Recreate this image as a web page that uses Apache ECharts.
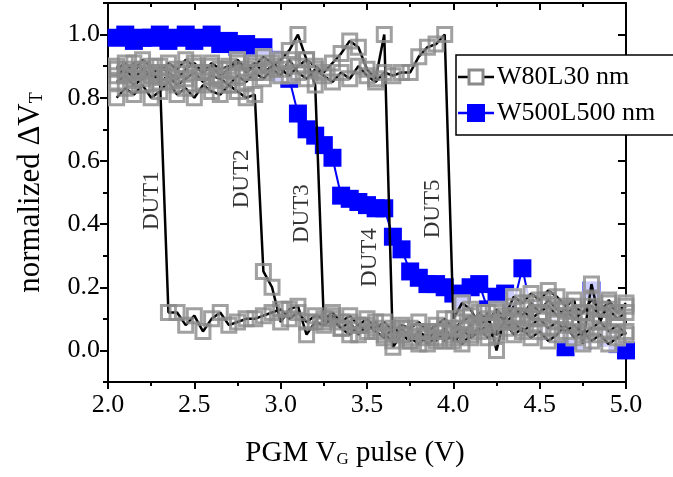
<!DOCTYPE html>
<html><head><meta charset="utf-8">
<script src="https://cdn.jsdelivr.net/npm/echarts@6/dist/echarts.min.js"></script>
<style>html,body{margin:0;padding:0;background:#fff}#c{width:673px;height:477px}</style>
</head><body><div id="c"></div>
<script>
// ---- data ----
const xValues = [2.05,2.10,2.15,2.20,2.25,2.30,2.35,2.40,2.45,2.50,2.55,2.60,2.65,2.70,2.75,2.80,2.85,2.90,2.95,3.00,
  3.05,3.10,3.15,3.20,3.25,3.30,3.35,3.40,3.45,3.50,3.55,3.60,3.65,3.70,3.75,3.80,3.85,3.90,3.95,4.00,
  4.05,4.10,4.15,4.20,4.25,4.30,4.35,4.40,4.45,4.50,4.55,4.60,4.65,4.70,4.75,4.80,4.85,4.90,4.95,5.00];

const dut1 = [0.87,0.89,0.86,0.89,0.87,0.87,
  0.12,0.12,0.08,0.11,0.06,0.10,0.12,0.08,0.09,0.10,0.10,0.11,0.12,0.13,
  0.10,0.12,0.09,0.11,0.10,0.12,0.09,0.11,0.08,0.10,
  0.07,0.09,0.06,0.08,0.07,0.09,0.06,0.08,0.10,0.07,
  0.09,0.11,0.08,0.10,0.12,0.09,0.11,0.13,0.10,0.12,
  0.14,0.11,0.13,0.10,0.12,0.14,0.11,0.13,0.10,0.12];

const dut2 = [0.80,0.83,0.81,0.84,0.80,0.82,0.85,0.81,0.83,0.80,0.84,0.82,0.81,0.84,0.82,0.80,0.81,
  0.25,0.20,0.09,
  0.13,0.14,0.05,0.09,0.08,0.10,0.07,0.09,0.05,0.08,
  0.06,0.04,0.07,0.05,0.03,0.06,0.04,0.06,0.03,0.05,
  0.07,0.04,0.06,0.08,0.05,0.07,0.09,0.06,0.08,0.10,
  0.07,0.09,0.06,0.08,0.05,0.07,0.09,0.06,0.08,0.05];

const dut3 = [0.89,0.91,0.88,0.92,0.90,0.88,0.91,0.89,0.92,0.90,0.88,0.91,0.89,0.90,0.92,0.89,0.91,0.88,0.90,0.92,
  0.95,1.00,0.92,0.84,
  0.09,0.11,0.07,0.05,0.08,0.06,0.09,0.05,0.03,0.07,
  0.04,0.02,0.05,0.03,0.06,0.04,0.02,0.05,0.07,0.04,
  0.06,0.09,0.05,0.07,0.04,0.06,0.03,0.05,0.08,0.04,
  0.06,0.03,0.05,0.02,0.04,0.06];

const dut4 = [0.90,0.88,0.91,0.89,0.87,0.90,0.88,0.86,0.89,0.91,0.88,0.90,0.87,0.89,0.91,0.88,0.90,0.93,0.91,0.89,
  0.87,0.90,0.92,0.90,0.88,0.91,0.94,0.98,0.96,0.89,0.86,1.00,
  0.01,0.05,0.03,0.06,0.02,0.04,0.07,0.03,0.05,0.08,
  0.12,0.09,0.13,0.10,0.14,0.11,0.15,0.12,0.16,0.13,
  0.11,0.14,0.12,0.16,0.13,0.15,0.12,0.14];

const dut5 = [0.85,0.87,0.84,0.86,0.88,0.85,0.87,0.84,0.86,0.88,0.85,0.87,0.86,0.84,0.87,0.85,0.88,0.86,0.89,
  0.87,0.92,0.88,0.86,0.89,0.87,0.85,0.88,0.86,0.90,0.87,0.85,0.88,0.87,0.88,0.88,0.93,0.96,0.97,1.00,
  0.10,0.15,0.13,0.08,0.12,0.00,0.11,0.17,0.15,0.18,
  0.16,0.19,0.17,0.14,0.16,0.02,0.21,0.09,0.16,0.12,0.15];

const w500 = [0.99,1.00,0.98,0.99,0.99,1.00,0.98,0.99,1.00,0.98,0.99,1.00,0.97,0.98,0.96,0.97,0.95,0.96,0.92,0.88,
  0.86,0.75,0.70,0.68,0.65,0.61,0.49,0.48,0.47,0.46,0.45,0.45,0.36,0.32,0.25,0.23,0.21,0.21,0.20,0.18,
  0.16,0.20,0.21,0.13,0.17,0.18,0.15,0.26,0.13,0.10,0.06,0.08,0.01,0.05,0.03,0.19,0.07,0.04,0.02,0.00];

const yMajorTicks = [0.0,0.2,0.4,0.6,0.8,1.0];
const yMinorTicks = [-0.1,0.1,0.3,0.5,0.7,0.9,1.1];
const dutNames = ['DUT1','DUT2','DUT3','DUT4','DUT5'];
const dutLabelX = [2.255,2.776,3.123,3.517,3.882];
const dutLabelY = [0.474,0.543,0.433,0.294,0.448];
const legendNames = ['W80L30 nm','W500L500 nm'];

// ---- chart ----
const FONT = 'Liberation Serif';
const GRAY = '#8a8a8a';
const BLUE = '#0000ff';
const chart = echarts.init(document.getElementById('c'), null, {renderer:'canvas'});
const pairs = arr => xValues.map((x,i)=>[x, arr[i]]);
const duts = [dut1,dut2,dut3,dut4,dut5];
const series = [];
duts.forEach(d => series.push({
  name:legendNames[0], type:'line', data:pairs(d), z:4, symbol:'rect', symbolSize:14, showSymbol:false,
  lineStyle:{color:'#000', width:2.5}, itemStyle:{color:'#fff', borderColor:GRAY, borderWidth:3},
  silent:true, animation:false, clip:false
}));
duts.forEach(d => series.push({
  name:legendNames[0], type:'scatter', data:pairs(d), z:3, symbol:'rect', symbolSize:17,
  itemStyle:{color:'#fff'}, silent:true, animation:false
}));
duts.forEach(d => series.push({
  name:legendNames[0], type:'scatter', data:pairs(d), z:5, symbol:'rect', symbolSize:14,
  itemStyle:{color:'rgba(255,255,255,0)', borderColor:GRAY, borderWidth:3}, silent:true, animation:false
}));
series.push({
  name:legendNames[1], type:'line', data:pairs(w500), z:2, symbol:'rect', symbolSize:18, showSymbol:true,
  itemStyle:{color:BLUE}, lineStyle:{color:BLUE, width:2}, silent:true, animation:false
});
series.push({
  name:'labels', type:'scatter', z:6, symbolSize:1, itemStyle:{color:'rgba(0,0,0,0)'}, silent:true, animation:false,
  data: dutNames.map((n,i)=>({name:n, value:[dutLabelX[i], dutLabelY[i]]})),
  label:{show:true, formatter:'{b}', rotate:90, position:'inside', fontFamily:FONT, fontSize:23, color:'#000'}
});

// legend drawn as graphic (box runs past the right edge as in the reference)
const LX = 456, LY = 55, ROW = [77, 113];
const LFONT = "26px 'Liberation Serif', 'Times New Roman', serif";
const legendGraphic = [
  {type:'rect', x:LX, y:LY, z:100, silent:true, shape:{x:0, y:0, width:260, height:80},
    style:{fill:'#fff', stroke:'#000', lineWidth:1.5}},
  {type:'line', z:101, silent:true, shape:{x1:LX+2, y1:ROW[0], x2:LX+38, y2:ROW[0]}, style:{stroke:'#000', lineWidth:2.5}},
  {type:'rect', z:102, silent:true, shape:{x:LX+13, y:ROW[0]-7, width:14, height:14},
    style:{fill:'#fff', stroke:GRAY, lineWidth:3}},
  {type:'text', z:103, silent:true, x:LX+41, y:ROW[0],
    style:{text:legendNames[0], font:LFONT, fontFamily:FONT, fontSize:26, fill:'#000', verticalAlign:'middle', align:'left'}},
  {type:'line', z:101, silent:true, shape:{x1:LX+2, y1:ROW[1], x2:LX+38, y2:ROW[1]}, style:{stroke:BLUE, lineWidth:2.5}},
  {type:'rect', z:102, silent:true, shape:{x:LX+11, y:ROW[1]-9, width:18, height:18},
    style:{fill:BLUE, stroke:null}},
  {type:'text', z:103, silent:true, x:LX+41, y:ROW[1],
    style:{text:legendNames[1], font:LFONT, fontFamily:FONT, fontSize:26, fill:'#000', verticalAlign:'middle', align:'left'}}
];

const axisLineStyle = {color:'#000', width:2};
const fmt = v => v.toFixed(1);
const xBase = {type:'value', min:2, max:5, interval:0.5, splitLine:{show:false}, minorSplitLine:{show:false},
  axisLine:{show:true, onZero:false, lineStyle:axisLineStyle}};
const option = {
  animation:false,
  backgroundColor:'#fff',
  textStyle:{fontFamily:FONT, color:'#000'},
  grid:{left:108, top:3, right:47, bottom:95, containLabel:false, outerBoundsMode:'none'},
  legend:{show:false, data:legendNames},
  graphic:{elements:legendGraphic},
  xAxis:[
    Object.assign({}, xBase, {position:'bottom',
      axisTick:{show:true, inside:false, length:7, lineStyle:axisLineStyle},
      minorTick:{show:true, splitNumber:2, length:4, lineStyle:axisLineStyle},
      axisLabel:{show:true, formatter:fmt, fontFamily:FONT, fontSize:26, color:'#000', margin:10},
      name:'PGM V{sub|G} pulse (V)', nameLocation:'middle', nameGap:57,
      nameTextStyle:{fontFamily:FONT, fontSize:29, color:'#000', padding:[0,24,0,0],
        rich:{sub:{fontFamily:FONT, fontSize:17, color:'#000', verticalAlign:'bottom', padding:[10,0,0,0]}}}
    }),
    Object.assign({}, xBase, {position:'top',
      axisTick:{show:true, inside:true, length:7, lineStyle:axisLineStyle},
      minorTick:{show:true, splitNumber:2, length:4, lineStyle:axisLineStyle},
      axisLabel:{show:false}
    })
  ],
  yAxis:[
    {type:'value', min:-0.1, max:1.1, position:'left', splitLine:{show:false},
      axisLine:{show:true, onZero:false, lineStyle:axisLineStyle},
      axisTick:{show:true, inside:false, length:8, lineStyle:axisLineStyle, customValues:yMajorTicks},
      axisLabel:{show:true, customValues:yMajorTicks, formatter:fmt, fontFamily:FONT, fontSize:26, color:'#000', margin:8},
      name:'normalized \u0394V{sub|T}', nameLocation:'middle', nameRotate:90, nameGap:62,
      nameTextStyle:{fontFamily:FONT, fontSize:31, color:'#000',
        rich:{sub:{fontFamily:FONT, fontSize:18, color:'#000', verticalAlign:'bottom', padding:[10,0,0,0]}}}
    },
    {type:'value', min:-0.1, max:1.1, position:'left', splitLine:{show:false},
      axisLine:{show:false},
      axisTick:{show:true, inside:false, length:5, lineStyle:axisLineStyle, customValues:yMinorTicks},
      axisLabel:{show:false}
    },
    {type:'value', min:-0.1, max:1.1, position:'right', splitLine:{show:false},
      axisLine:{show:true, onZero:false, lineStyle:axisLineStyle},
      axisTick:{show:true, inside:true, length:8, lineStyle:axisLineStyle, customValues:yMajorTicks},
      axisLabel:{show:false}
    },
    {type:'value', min:-0.1, max:1.1, position:'right', splitLine:{show:false},
      axisLine:{show:false},
      axisTick:{show:true, inside:true, length:5, lineStyle:axisLineStyle, customValues:yMinorTicks},
      axisLabel:{show:false}
    }
  ],
  series: series
};
chart.setOption(option);
</script>
</body></html>
